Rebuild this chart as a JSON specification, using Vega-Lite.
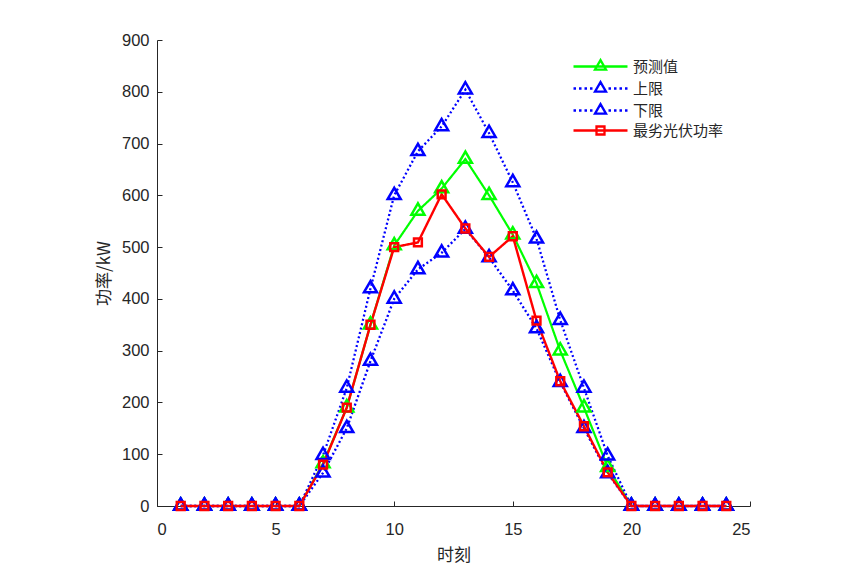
{
  "$schema": "https://vega.github.io/schema/vega-lite/v6.json",
  "width": 593,
  "height": 466,
  "autosize": {"type": "none"},
  "padding": {"left": 157, "top": 40, "right": 102, "bottom": 62},
  "background": "white",
  "data": {
    "values": [
      {"t": 1, "预测值": 0, "上限": 0, "下限": 0, "最劣光伏功率": 0},
      {"t": 2, "预测值": 0, "上限": 0, "下限": 0, "最劣光伏功率": 0},
      {"t": 3, "预测值": 0, "上限": 0, "下限": 0, "最劣光伏功率": 0},
      {"t": 4, "预测值": 0, "上限": 0, "下限": 0, "最劣光伏功率": 0},
      {"t": 5, "预测值": 0, "上限": 0, "下限": 0, "最劣光伏功率": 0},
      {"t": 6, "预测值": 0, "上限": 0, "下限": 0, "最劣光伏功率": 0},
      {"t": 7, "预测值": 82, "上限": 98, "下限": 64, "最劣光伏功率": 80},
      {"t": 8, "预测值": 190, "上限": 228, "下限": 150, "最劣光伏功率": 190},
      {"t": 9, "预测值": 350, "上限": 420, "下限": 280, "最劣光伏功率": 350},
      {"t": 10, "预测值": 503, "上限": 600, "下限": 400, "最劣光伏功率": 500},
      {"t": 11, "预测值": 570, "上限": 685, "下限": 457, "最劣光伏功率": 509},
      {"t": 12, "预测值": 613, "上限": 733, "下限": 489, "最劣光伏功率": 602},
      {"t": 13, "预测值": 670, "上限": 804, "下限": 535, "最劣光伏功率": 536},
      {"t": 14, "预测值": 600, "上限": 720, "下限": 480, "最劣光伏功率": 481},
      {"t": 15, "预测值": 524, "上限": 625, "下限": 416, "最劣光伏功率": 521},
      {"t": 16, "预测值": 430, "上限": 516, "下限": 343, "最劣光伏功率": 358},
      {"t": 17, "预测值": 300, "上限": 359, "下限": 239, "最劣光伏功率": 241},
      {"t": 18, "预测值": 190, "上限": 228, "下限": 150, "最劣光伏功率": 154},
      {"t": 19, "预测值": 75, "上限": 97, "下限": 63, "最劣光伏功率": 65},
      {"t": 20, "预测值": 0, "上限": 0, "下限": 0, "最劣光伏功率": 0},
      {"t": 21, "预测值": 0, "上限": 0, "下限": 0, "最劣光伏功率": 0},
      {"t": 22, "预测值": 0, "上限": 0, "下限": 0, "最劣光伏功率": 0},
      {"t": 23, "预测值": 0, "上限": 0, "下限": 0, "最劣光伏功率": 0},
      {"t": 24, "预测值": 0, "上限": 0, "下限": 0, "最劣光伏功率": 0}
    ]
  },
  "transform": [
    {"fold": ["预测值", "上限", "下限", "最劣光伏功率"], "as": ["series", "value"]}
  ],
  "encoding": {
    "x": {
      "field": "t",
      "type": "quantitative",
      "title": "时刻",
      "scale": {"domain": [0, 25], "nice": false, "zero": false},
      "axis": {"values": [0, 5, 10, 15, 20, 25], "titlePadding": 10}
    },
    "y": {
      "field": "value",
      "type": "quantitative",
      "title": "功率/kW",
      "scale": {"domain": [0, 900], "nice": false},
      "axis": {"values": [0, 100, 200, 300, 400, 500, 600, 700, 800, 900], "titlePadding": 8}
    },
    "color": {
      "field": "series",
      "type": "nominal",
      "scale": {
        "domain": ["预测值", "上限", "下限", "最劣光伏功率"],
        "range": ["#00ff00", "#0000ff", "#0000ff", "#ff0000"]
      },
      "legend": null
    }
  },
  "layer": [
    {
      "mark": {"type": "line"},
      "encoding": {
        "strokeDash": {
          "field": "series",
          "type": "nominal",
          "scale": {
            "domain": ["预测值", "上限", "下限", "最劣光伏功率"],
            "range": [[1, 0], [2, 2.5], [2, 2.5], [1, 0]]
          },
          "legend": null
        },
        "strokeWidth": {
          "field": "series",
          "type": "nominal",
          "scale": {
            "domain": ["预测值", "上限", "下限", "最劣光伏功率"],
            "range": [2.2, 2.4, 2.4, 2.9]
          },
          "legend": null
        }
      }
    },
    {
      "mark": {"type": "point", "filled": false, "opacity": 1, "size": 170},
      "encoding": {
        "shape": {
          "field": "series",
          "type": "nominal",
          "scale": {
            "domain": ["预测值", "上限", "下限", "最劣光伏功率"],
            "range": ["M0,-1.155L-1,0.577L1,0.577Z", "M0,-1.155L-1,0.577L1,0.577Z", "M0,-1.155L-1,0.577L1,0.577Z", "M-0.6,-0.6H0.6V0.6H-0.6Z"]
          },
          "legend": null
        },
        "strokeWidth": {
          "field": "series",
          "type": "nominal",
          "scale": {
            "domain": ["预测值", "上限", "下限", "最劣光伏功率"],
            "range": [2.5, 2.5, 2.5, 2.8]
          },
          "legend": null
        }
      }
    },
    {
      "transform": [{"filter": "datum.t > 99"}],
      "mark": {"type": "point", "filled": false, "opacity": 1, "size": 196, "strokeWidth": 2.3},
      "encoding": {
        "color": {
          "field": "series",
          "type": "nominal",
          "scale": {
            "domain": ["预测值", "上限", "下限", "最劣光伏功率"],
            "range": ["#00ff00", "#0000ff", "#0000ff", "#ff0000"]
          },
          "legend": {
            "title": null,
            "orient": "none",
            "legendX": 435,
            "legendY": 18,
            "padding": 0,
            "symbolSize": 196,
            "symbolStrokeWidth": 2.3,
            "symbolOpacity": 1,
            "labelOffset": 24,
            "rowPadding": 2,
            "labelFont": "Noto Sans CJK SC",
            "labelFontSize": 15,
            "labelColor": "#262626"
          }
        },
        "shape": {
          "field": "series",
          "type": "nominal",
          "scale": {
            "domain": ["预测值", "上限", "下限", "最劣光伏功率"],
            "range": [
              "M-3.857,0H3.857M0,-0.906L-0.787,0.451L0.787,0.451Z",
              "M-3.857,0H-3.498M-3.07,0H-2.711M-2.287,0H-1.929M-1.5,0H-1.142M1.142,0H1.5M1.929,0H2.287M2.711,0H3.07M3.498,0H3.857M0,-0.906L-0.787,0.451L0.787,0.451Z",
              "M-3.857,0H-3.498M-3.07,0H-2.711M-2.287,0H-1.929M-1.5,0H-1.142M1.142,0H1.5M1.929,0H2.287M2.711,0H3.07M3.498,0H3.857M0,-0.906L-0.787,0.451L0.787,0.451Z",
              "M-3.857,0H3.857M-0.571,-0.571H0.571V0.571H-0.571Z"
            ]
          },
          "legend": {
            "title": null,
            "orient": "none",
            "legendX": 435,
            "legendY": 18,
            "padding": 0,
            "symbolSize": 196,
            "symbolStrokeWidth": 2.3,
            "symbolOpacity": 1,
            "labelOffset": 24,
            "rowPadding": 2,
            "labelFont": "Noto Sans CJK SC",
            "labelFontSize": 15,
            "labelColor": "#262626"
          }
        }
      }
    }
  ],
  "resolve": {
    "scale": {"shape": "independent", "strokeWidth": "independent"},
    "legend": {"color": "independent", "shape": "independent"}
  },
  "config": {
    "view": {"stroke": null},
    "axis": {
      "grid": false,
      "domainColor": "#262626",
      "tickColor": "#262626",
      "tickSize": -5,
      "labelColor": "#262626",
      "labelFont": "Liberation Sans",
      "labelFontSize": 16.5,
      "labelPadding": 20,
      "titleFont": "Noto Sans CJK SC",
      "titleFontSize": 17,
      "titleFontWeight": "normal",
      "titleColor": "#262626"
    },
    "axisY": {"labelPadding": 13}
  }
}
